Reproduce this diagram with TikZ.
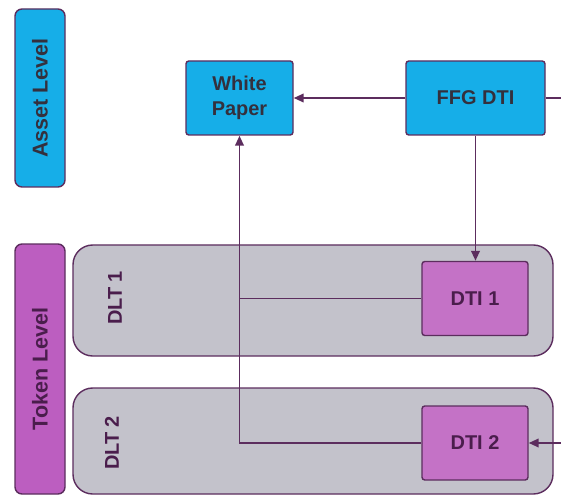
\documentclass[tikz,border=0pt]{standalone}
\usepackage{fontspec}
\setmainfont{Liberation Sans}
\usetikzlibrary{arrows.meta,positioning}
\definecolor{skyfill}{HTML}{16AEE8}
\definecolor{orchid}{HTML}{BC5EC0}
\definecolor{dtifill}{HTML}{C472C6}
\definecolor{panelgray}{HTML}{C3C2CB}
\definecolor{edge}{HTML}{5C2D5E}
\definecolor{inkgray}{HTML}{34303D}
\definecolor{plum}{HTML}{4A1D4C}

\begin{document}
\begin{tikzpicture}[x=1cm,y=1cm,font=\bfseries\fontsize{14.2}{17.4}\selectfont,
  box/.style={draw=edge,line width=1pt,rounded corners=2pt,inner sep=0pt,align=center},
  assetbox/.style={box,fill=skyfill,text=inkgray,minimum width=2.675cm,minimum height=1.85cm},
  tokenbox/.style={box,fill=dtifill,text=plum,minimum width=2.65cm,minimum height=1.85cm},
  levelbar/.style={box,rotate=90,rounded corners=5pt,minimum height=1.25cm,font=\bfseries\fontsize{15.3}{18}\selectfont},
  dltpanel/.style={draw=edge,line width=1pt,fill=panelgray,rounded corners=14pt,minimum width=12cm},
  link/.style={draw=edge,line width=1.4pt},
  >={Triangle[length=7pt,width=6pt]}]
\useasboundingbox (0,0) rectangle (14.025,12.375);
\node[levelbar,fill=skyfill,text=inkgray,minimum width=4.45cm] (assetlvl) at (1,9.925) {Asset Level};
\node[levelbar,fill=orchid,text=plum,minimum width=6.25cm] (tokenlvl) at (1,3.15) {Token Level};
\node[dltpanel,minimum height=2.775cm] (dlt1) at (7.825,4.8625) {};
\node[dltpanel,minimum height=2.65cm] (dlt2) at (7.825,1.35) {};
\node[rotate=90,text=plum] (dlt1lbl) at (2.875,4.925) {DLT 1};
\node[rotate=90,text=plum] (dlt2lbl) at (2.8,1.3) {DLT 2};
\node[assetbox] (paper) at (5.9875,9.925) {White\\Paper};
\node[assetbox,minimum width=3.475cm] (ffg) at (11.8875,9.925) {FFG DTI};
\node[tokenbox] (dti1) at (11.875,4.9125) {DTI 1};
\node[tokenbox] (dti2) at (11.875,1.3) {DTI 2};
\coordinate (ffgout) at (14.025,9.925);
\coordinate (dti2in) at (14.025,1.3);

\draw[link] (ffg) -- (ffgout);
\draw[link,->] (ffg) -- (paper);
\draw[link,->] (ffg.south) -- (ffg.south |- dti1.north);
\draw[link,->] (dti2.west) -| (paper.south);
\draw[link] (dti1.west) -- (dti1.west -| paper.south);
\draw[link,->] (dti2in) -- (dti2.east);
\end{tikzpicture}
\end{document}
